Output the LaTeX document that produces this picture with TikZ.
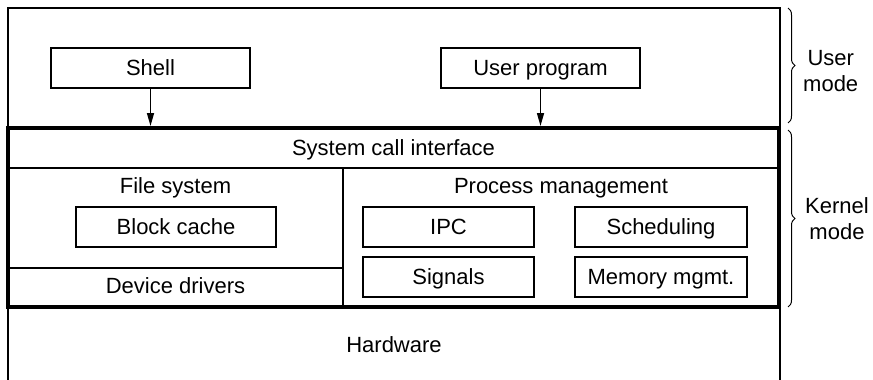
\documentclass[tikz,border=0pt]{standalone}
\usepackage{fontspec}
\setmainfont{Liberation Sans}
\usetikzlibrary{arrows.meta,decorations.pathreplacing}
\begin{document}
\begin{tikzpicture}[x=1pt,y=-1pt,
  font=\fontsize{22}{26}\selectfont,
  thinline/.style={line width=1.5pt},
  txt/.style={text height=16pt, text depth=2pt},
  inbox/.style={draw, txt, line width=1.8pt, inner sep=0pt, minimum height=40pt},
  label/.style={txt, inner sep=0pt},
  arr/.style={line width=1.5pt, -{Triangle[length=13pt,width=7pt]}},
  modebrace/.style={decorate, decoration={brace, amplitude=7pt}, line width=1pt},
  modetext/.style={anchor=west, align=center, inner sep=0pt}]
\useasboundingbox (0,0) rectangle (873,380);
% outer frame (open at the bottom)
\draw[thinline] (8,382) -- (8,8) -- (780,8) -- (780,382);
% user programs
\node[inbox, minimum width=199pt] (shell) at (150.5,68) {Shell};
\node[inbox, minimum width=199pt] (user) at (540.5,68) {User program};
% kernel
\node[draw, line width=4pt, minimum width=771pt, minimum height=179pt, inner sep=0pt] (kernel) at (393.5,217.5) {};
\draw[thinline] (8,168) -- (779,168);
\draw[thinline] (343,168) -- (343,307);
\draw[thinline] (8,268) -- (343,268);
\node[label] (syscall) at (393.5,148) {System call interface};
\node[label] (filesys) at (175.5,186) {File system};
\node[label] (procmgmt) at (561,186) {Process management};
\node[label] (devdrv) at (175.5,286.5) {Device drivers};
\node[inbox, minimum width=200pt] (cache) at (176,227) {Block cache};
\node[inbox, minimum width=171pt] (ipc) at (448.5,227) {IPC};
\node[inbox, minimum width=172pt] (sched) at (661,227) {Scheduling};
\node[inbox, minimum width=171pt] (signals) at (448.5,277) {Signals};
\node[inbox, minimum width=172pt] (memory) at (661,277) {Memory mgmt.};
\node[label] (hardware) at (394,345) {Hardware};
% arrows
\draw[arr] (shell.south) -- (shell.south |- kernel.north);
\draw[arr] (user.south) -- (user.south |- kernel.north);
% braces
\coordinate (ub1) at (788,8);
\coordinate (ub2) at (788,123);
\coordinate (kb1) at (788,130);
\coordinate (kb2) at (788,307);
\draw[modebrace] (ub1) -- (ub2);
\draw[modebrace] (kb1) -- (kb2);
\node[modetext] (usermode) at (803,71) {User\\mode};
\node[modetext] (kernelmode) at (805,219) {Kernel\\mode};
\end{tikzpicture}
\end{document}
